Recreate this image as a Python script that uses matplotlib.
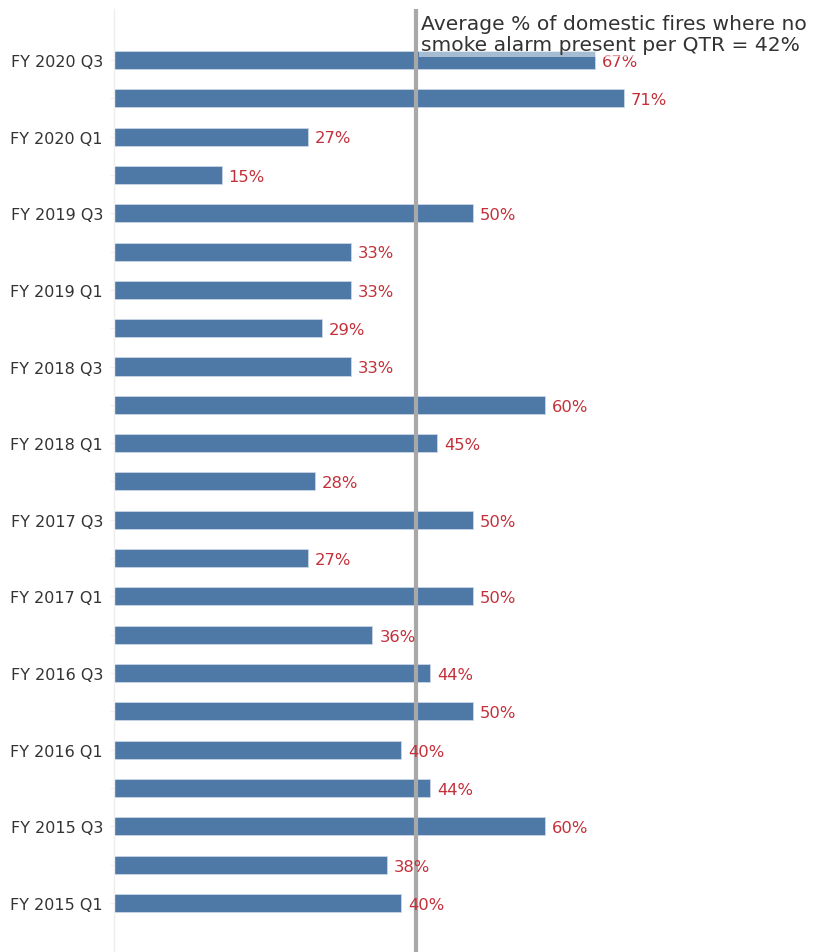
import matplotlib
matplotlib.use("Agg")
import matplotlib.pyplot as plt
import matplotlib.transforms as mtransforms

quarters = ["FY 2020 Q3", "FY 2020 Q2", "FY 2020 Q1", "FY 2019 Q4", "FY 2019 Q3", "FY 2019 Q2",
            "FY 2019 Q1", "FY 2018 Q4", "FY 2018 Q3", "FY 2018 Q2", "FY 2018 Q1", "FY 2017 Q4",
            "FY 2017 Q3", "FY 2017 Q2", "FY 2017 Q1", "FY 2016 Q4", "FY 2016 Q3", "FY 2016 Q2",
            "FY 2016 Q1", "FY 2015 Q4", "FY 2015 Q3", "FY 2015 Q2", "FY 2015 Q1"]
values = [67, 71, 27, 15, 50, 33, 33, 29, 33, 60, 45, 28, 50, 27, 50, 36, 44, 50, 40, 44, 60, 38, 40]
shown_labels = [q if i % 2 == 0 else "" for i, q in enumerate(quarters)]
average = 42
avg_text = "Average % of domestic fires where no\nsmoke alarm present per QTR = 42%"

plt.rcParams['font.family'] = ['DejaVu Sans']

fig = plt.figure(figsize=(8.32, 9.53), dpi=100)
ax = fig.add_axes([114/832, 0.0, 1 - 114/832, 1 - 10/953])

pos = list(range(len(values)))
ax.barh(pos, values, height=0.47, color="#4e79a7", edgecolor="#c9d6e6", linewidth=0.6, zorder=2)
ax.set_ylim(len(values) - 1 + 1.28, -1.33)
ax.set_xlim(0, 100)

ax.axvline(average, color="#a8a8a8", linewidth=3, zorder=3)

for p, v in zip(pos, values):
    ax.annotate(f"{v}%", xy=(v, p), xytext=(5, -1), textcoords="offset points",
                va="center", ha="left", color="#c4303a", fontsize=11.8, zorder=4)

trans = mtransforms.blended_transform_factory(ax.transData, fig.transFigure)
ax.text(average + 0.8, 1 - 15/953, avg_text, transform=trans, ha="left", va="top",
        fontsize=14.6, color="#333333", linespacing=1.15, zorder=5,
        bbox=dict(boxstyle="square,pad=0.12", facecolor="white", edgecolor="none", alpha=0.5))

ax.set_yticks(pos)
ax.set_yticklabels(shown_labels, fontsize=11.5, color="#333333")
ax.set_xticks([])
ax.tick_params(axis="y", length=3, color="#eeeeee", pad=5)
for s in ["top", "right", "bottom"]:
    ax.spines[s].set_visible(False)
ax.spines["left"].set_color("#eeeeee")
ax.spines["left"].set_linewidth(1)

fig.savefig("out.png", dpi=100)
